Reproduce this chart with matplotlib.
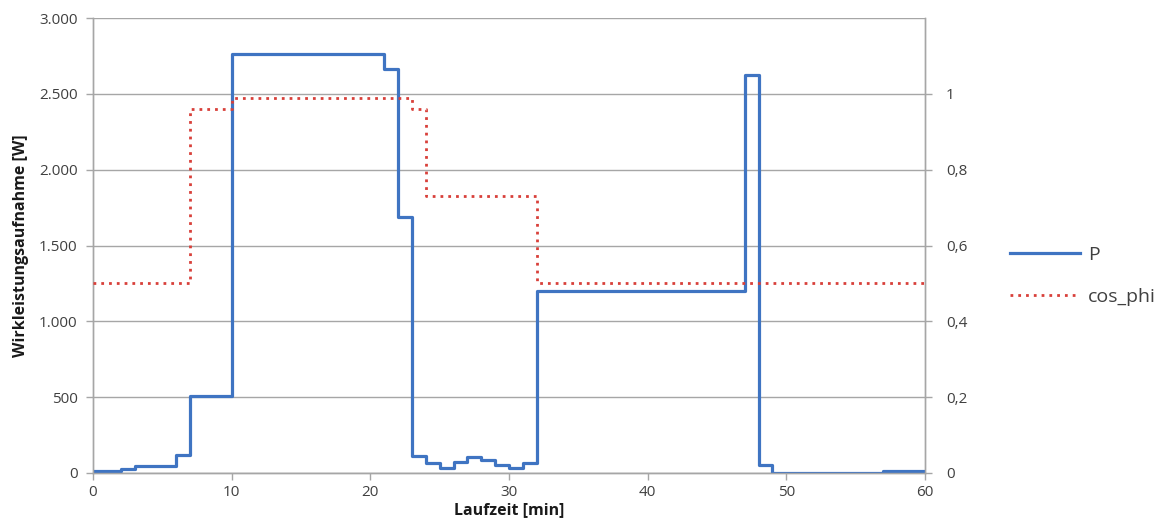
import matplotlib
matplotlib.use("Agg")
import matplotlib.pyplot as plt
from matplotlib.ticker import FuncFormatter

plt.rcParams['font.family'] = ['Open Sans', 'DejaVu Sans']

# Data
p_time = [0, 2, 3, 6, 7, 10, 21, 22, 23, 24, 25, 26, 27, 28, 29, 30, 31, 32, 47, 48, 49, 57, 60]
p_values = [10, 25, 45, 120, 505, 2760, 2665, 1690, 110, 65, 30, 75, 105, 85, 50, 30, 65, 1200, 2625, 50, 3, 12]

cos_time = [0, 7, 10, 23, 24, 32, 60]
cos_values = [0.5, 0.96, 0.99, 0.96, 0.73, 0.5]

x_ticks = [0, 10, 20, 30, 40, 50, 60]
y_ticks = [0, 500, 1000, 1500, 2000, 2500, 3000]
y2_ticks = [0, 0.2, 0.4, 0.6, 0.8, 1.0]

blue = '#3f74c2'
red = '#d8403a'
grid = '#a6a6a6'
txt = '#404040'

fig = plt.figure(figsize=(11.67, 5.31), dpi=100)
ax = fig.add_axes([93/1167, 1-473/531, (925-93)/1167, (473-18)/531])
ax2 = ax.twinx()

lp, = ax.step(p_time, p_values + [p_values[-1]], where='post', color=blue, lw=2.3, label='P', zorder=3)
lc, = ax2.step(cos_time, cos_values + [cos_values[-1]], where='post', color=red, lw=2.0,
               dashes=(1, 1.8), label='cos_phi', zorder=3)

ax.set_xlim(0, 60)
ax.set_ylim(0, 3000)
ax2.set_ylim(0, 1.2)
ax.set_xticks(x_ticks)
ax.set_yticks(y_ticks)
ax2.set_yticks(y2_ticks)

ax.yaxis.set_major_formatter(FuncFormatter(lambda v, p: f"{int(v):,}".replace(',', '.')))
ax2.yaxis.set_major_formatter(FuncFormatter(lambda v, p: ('%g' % round(v, 2)).replace('.', ',')))

ax.grid(axis='y', color=grid, lw=1)
ax.set_axisbelow(True)
for a in (ax, ax2):
    a.spines['top'].set_visible(False)
    for s in ['left', 'right', 'bottom']:
        a.spines[s].set_color(grid)
        a.spines[s].set_linewidth(1)
    a.tick_params(colors=txt, labelsize=11, length=5, width=1)
    a.tick_params(axis='both', color=grid)

ax.tick_params(axis='y', pad=6)
ax2.tick_params(axis='y', pad=10)
ax.tick_params(axis='x', pad=4)

ax.set_xlabel('Laufzeit [min]', fontsize=11.5, fontweight='bold', color='#1a1a1a', labelpad=1)
ax.set_ylabel('Wirkleistungsaufnahme [W]', fontsize=11.5, fontweight='bold', color='#1a1a1a', labelpad=7)

fig.legend(handles=[lp, lc], loc='center left', bbox_to_anchor=(992/1167, 1-276/531),
           frameon=False, fontsize=14, handlelength=3.6, handletextpad=0.45,
           labelspacing=1.25, labelcolor=txt)

fig.savefig('out.png', dpi=100)
